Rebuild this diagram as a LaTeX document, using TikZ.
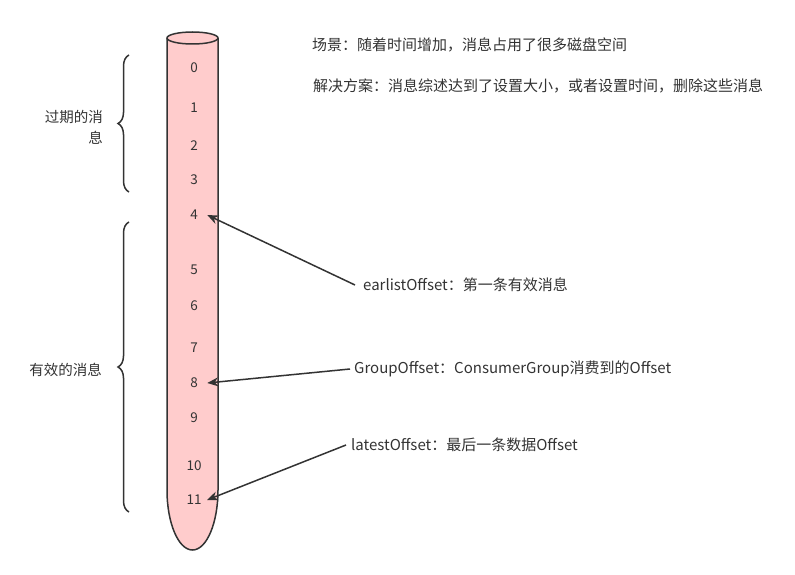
\documentclass[tikz,border=0pt]{standalone}
\usepackage{fontspec}
\setmainfont{Noto Sans CJK SC}
\usepackage{tikz}
\usetikzlibrary{arrows.meta,positioning,calc,decorations.pathreplacing}

\definecolor{tube}{HTML}{FFCCCC}
\definecolor{ink}{HTML}{333333}

\begin{document}
\begin{tikzpicture}[x = 1pt, y = -1pt, font = \fontsize{13.5}{16}\selectfont, text = ink]
\tikzset{note/.style = {anchor = west, inner sep = 0pt, font = \fontsize{15}{18}\selectfont},
  side/.style = {anchor = east, inner sep = 0pt, font = \fontsize{14.5}{21}\selectfont}}
\useasboundingbox (0,0) rectangle (795,575);
% the tube
\path[fill = tube, draw = ink, line width = 1.5pt] (167,38) -- (167,490)
  arc[start angle = 180, end angle = 0, x radius = 25.5, y radius = 60] -- (218,38);
\draw[fill = tube, draw = ink, line width = 1.5pt] (192.5,38) ellipse[x radius = 25.5, y radius = 6];
% offsets
\node (n0) at (194,68) {0};
\node (n1) at (194,108) {1};
\node (n2) at (194,146) {2};
\node (n3) at (194,180) {3};
\node (n4) at (194,215) {4};
\node (n5) at (194,270) {5};
\node (n6) at (194,306) {6};
\node (n7) at (194,348) {7};
\node (n8) at (194,383) {8};
\node (n9) at (194,418) {9};
\node (n10) at (194,466) {10};
\node (n11) at (194,500) {11};
% braces
\draw[ink, line width = 1.5pt, decorate, decoration = {brace, amplitude = 11pt}] (129,192) -- (129,55);
\draw[ink, line width = 1.5pt, decorate, decoration = {brace, amplitude = 11pt}] (129,512) -- (129,222);
\node[side, align = right] (old) at (103,127) {过期的消\\息};
\node[side] (valid) at (102,370) {有效的消息};
% notes
\node[note] (scene) at (312,45) {场景：随着时间增加，消息占用了很多磁盘空间};
\node[note] (plan) at (313,86) {解决方案：消息综述达到了设置大小，或者设置时间，删除这些消息};
\node[note] (eo) at (363,285) {earlistOffset：第一条有效消息};
\node[note] (go) at (354,369) {GroupOffset：ConsumerGroup消费到的Offset};
\node[note] (lo) at (351,445) {latestOffset：最后一条数据Offset};
\draw[-{Stealth[length = 11pt, width = 9pt]}, ink, line width = 1.5pt] ([xshift = -8pt]eo.west) -- ([xshift = 6pt]n4.east);
\draw[-{Stealth[length = 11pt, width = 9pt]}, ink, line width = 1.5pt] ([xshift = -4pt]go.west) -- ([xshift = 6pt]n8.east);
\draw[-{Stealth[length = 11pt, width = 9pt]}, ink, line width = 1.5pt] ([xshift = -5pt]lo.west) -- ([xshift = 2pt]n11.east);
\end{tikzpicture}
\end{document}
